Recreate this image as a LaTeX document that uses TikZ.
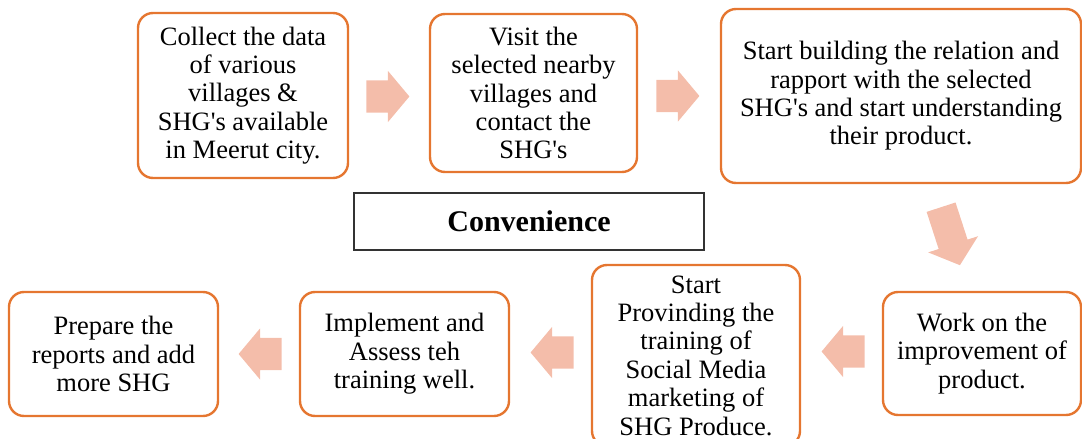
\documentclass[tikz,border=0pt]{standalone}
\usepackage{fontspec}
\setmainfont{Liberation Serif}
\usetikzlibrary{calc,shapes.arrows}
\definecolor{stepline}{RGB}{229,118,48}
\definecolor{arrowfill}{RGB}{244,189,170}

\begin{document}
\begin{tikzpicture}[
  x=1pt, y=-1pt,
  font=\fontsize{26.5}{28.4}\selectfont,
  stepbox/.style={draw=stepline, line width=2.4pt, rounded corners=15pt, align=center, inner sep=2pt},
  titlebox/.style={draw=black!80, line width=1.3pt, font=\fontsize{30}{32}\selectfont\bfseries},
  blockarr/.style={single arrow, fill=arrowfill, inner xsep=0pt, inner ysep=16pt, minimum height=43pt, single arrow head extend=9.5pt, single arrow tip angle=100, anchor=tail}
]
\useasboundingbox (0,0) rectangle (1082,439);
\node[stepbox, minimum width=210pt, minimum height=165pt] (collect) at (243,95.5) {Collect the data\\of various\\villages \&\\SHG\textquotesingle s available\\in Meerut city.};
\node[stepbox, minimum width=207pt, minimum height=158pt] (visit) at (533.5,93) {Visit the\\selected nearby\\villages and\\contact the\\SHG\textquotesingle s};
\node[stepbox, minimum width=360pt, minimum height=174pt] (rapport) at (901,96) {Start building the relation and\\rapport with the selected\\SHG\textquotesingle s and start understanding\\their product.};
\node[titlebox, minimum width=350pt, minimum height=57pt] (conv) at (529,221.5) {Convenience};
\node[stepbox, minimum width=198pt, minimum height=123pt] (improve) at (982,353.5) {Work on the\\improvement of\\product.};
\node[stepbox, minimum width=208pt, minimum height=181pt] (training) at (696,355.5) {Start\\Provinding the\\training of\\Social Media\\marketing of\\SHG Produce.};
\node[stepbox, minimum width=209pt, minimum height=124pt] (assess) at (404.5,354) {Implement and\\Assess teh\\training well.};
\node[stepbox, minimum width=209pt, minimum height=124pt] (report) at (113.5,354) {Prepare the\\reports and add\\more SHG};
\node[blockarr] (a1) at ($(collect.east)+(17,1)$) {};
\node[blockarr] (a2) at ($(visit.east)+(18,3)$) {};
\node[blockarr, rotate=-72, minimum height=61pt, inner ysep=15pt, single arrow head extend=11pt] (a3) at (941,207) {};
\node[blockarr, rotate=180] (a4) at ($(improve.west)+(-17,-2)$) {};
\node[blockarr, rotate=180] (a5) at ($(training.west)+(-17,-3)$) {};
\node[blockarr, rotate=180] (a6) at ($(assess.west)+(-17,0)$) {};
\end{tikzpicture}
\end{document}
